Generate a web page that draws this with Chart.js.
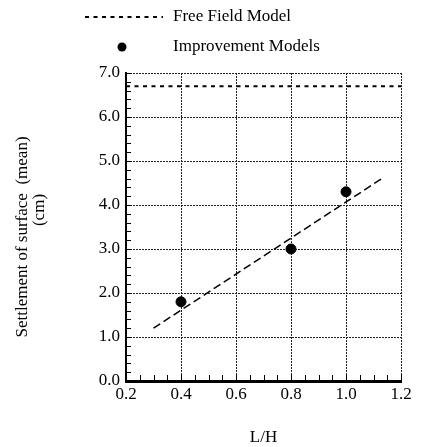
<!DOCTYPE html>
<html>
<head>
<meta charset="utf-8">
<script src="https://cdn.jsdelivr.net/npm/chart.js@4.4.1/dist/chart.umd.min.js"></script>
<style>
  html, body { margin: 0; padding: 0; background: #fff; }
  #wrap { width: 422px; height: 447px; }
</style>
</head>
<body>
<div id="wrap"><canvas id="myChart" width="422" height="447"></canvas></div>
<script>
// values
const lhValues = [0.4, 0.8, 1.0];
const settlementMean = [1.8, 3.0, 4.3];
const freeFieldX = [0.2, 1.2];
const freeFieldY = [6.7, 6.7];
const trendX = [0.3, 1.13];
const trendY = [1.2, 4.6];
const xTickValues = [0.2, 0.4, 0.6, 0.8, 1.0, 1.2];
const yTickValues = [0, 1, 2, 3, 4, 5, 6, 7];

const serif = 'Liberation Serif';

function toPoints(xs, ys) {
  return xs.map((x, i) => ({ x: x, y: ys[i] }));
}

// inward minor ticks, axis titles and legend
const decorations = {
  id: 'decorations',
  afterDraw(chart) {
    const ctx = chart.ctx;
    const xs = chart.scales.x;
    const ys = chart.scales.y;
    const area = chart.chartArea;
    ctx.save();
    ctx.strokeStyle = '#000';
    ctx.lineWidth = 1;
    ctx.setLineDash([]);
    // y minor ticks every 0.2
    for (let i = 0; i <= 35; i++) {
      const py = Math.round(ys.getPixelForValue(i * 0.2)) + 0.5;
      ctx.beginPath();
      ctx.moveTo(area.left, py);
      ctx.lineTo(area.left + 5, py);
      ctx.stroke();
    }
    // x minor ticks every 0.05
    for (let i = 0; i <= 20; i++) {
      const px = Math.round(xs.getPixelForValue(0.2 + i * 0.05)) + 0.5;
      ctx.beginPath();
      ctx.moveTo(px, area.bottom);
      ctx.lineTo(px, area.bottom - 6);
      ctx.stroke();
    }

    ctx.fillStyle = '#000';
    ctx.font = '17px "' + serif + '"';
    ctx.textBaseline = 'middle';
    ctx.textAlign = 'center';
    // x title
    ctx.fillText('L/H', (area.left + area.right) / 2, 438);
    // y title, two lines
    ctx.save();
    ctx.translate(23, 237);
    ctx.rotate(-Math.PI / 2);
    ctx.fillText('Settlement of surface  (mean)', 0, 0);
    ctx.restore();
    ctx.save();
    ctx.translate(40, 210);
    ctx.rotate(-Math.PI / 2);
    ctx.fillText('(cm)', 0, 0);
    ctx.restore();

    // legend
    ctx.textAlign = 'left';
    ctx.lineWidth = 2;
    ctx.setLineDash([4, 4.5]);
    ctx.beginPath();
    ctx.moveTo(85, 17);
    ctx.lineTo(163, 17);
    ctx.stroke();
    ctx.setLineDash([]);
    ctx.fillText('Free Field Model', 173, 17);
    ctx.beginPath();
    ctx.arc(122, 47, 4.5, 0, Math.PI * 2);
    ctx.fill();
    ctx.fillText('Improvement Models', 173, 47);
    ctx.restore();
  }
};

const ctx = document.getElementById('myChart').getContext('2d');
const myChart = new Chart(ctx, {
  type: 'scatter',
  data: {
    datasets: [
      {
        label: 'Free Field Model',
        type: 'line',
        data: toPoints(freeFieldX, freeFieldY),
        borderColor: '#000',
        borderWidth: 2,
        borderDash: [4, 4.5],
        pointRadius: 0,
        fill: false
      },
      {
        label: 'Improvement Models',
        data: toPoints(lhValues, settlementMean),
        backgroundColor: '#000',
        borderColor: '#000',
        pointRadius: 5,
        pointHoverRadius: 5
      },
      {
        label: 'trend',
        type: 'line',
        data: toPoints(trendX, trendY),
        borderColor: '#000',
        borderWidth: 1.5,
        borderDash: [8, 4],
        pointRadius: 0,
        fill: false
      }
    ]
  },
  options: {
    responsive: false,
    animation: false,
    layout: { padding: { left: 0, right: 21, top: 73, bottom: 0 } },
    plugins: {
      legend: { display: false },
      tooltip: { enabled: false }
    },
    scales: {
      x: {
        type: 'linear',
        min: 0.2,
        max: 1.2,
        afterFit: (scale) => { scale.height = 66; },
        afterBuildTicks: (scale) => { scale.ticks = xTickValues.map(v => ({ value: v })); },
        ticks: {
          color: '#000',
          font: { family: serif, size: 17 },
          padding: 3,
          maxRotation: 0,
          callback: (v) => Number(v).toFixed(1)
        },
        grid: { color: '#222', lineWidth: 1, drawTicks: false },
        // in v4 border.dash styles the grid lines
        border: { color: '#000', width: 3, dash: [2, 1] }
      },
      y: {
        min: 0,
        max: 7,
        afterFit: (scale) => { scale.width = 126; },
        afterBuildTicks: (scale) => { scale.ticks = yTickValues.map(v => ({ value: v })); },
        ticks: {
          color: '#000',
          font: { family: serif, size: 17 },
          padding: 6,
          callback: (v) => Number(v).toFixed(1)
        },
        grid: { color: '#222', lineWidth: 1, drawTicks: false },
        border: { color: '#000', width: 2, dash: [2, 1] }
      }
    }
  },
  plugins: [decorations]
});
</script>
</body>
</html>
